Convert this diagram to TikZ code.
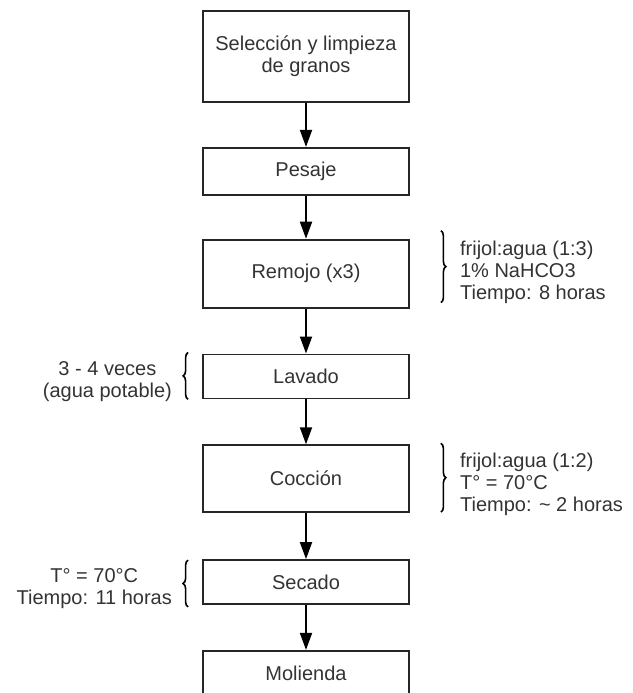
\documentclass[tikz,border=0pt]{standalone}
\usepackage{fontspec}
\setmainfont{Liberation Sans}
\usepackage{xcolor}
\usetikzlibrary{positioning,arrows.meta,decorations.pathreplacing}
\definecolor{tinta}{HTML}{333333}

\begin{document}
\begin{tikzpicture}[
    x=1pt, y=-1pt,
    every node/.style={font=\fontsize{20}{22}\selectfont, text=tinta},
    paso/.style={draw=black!85, line width=1.8pt, rectangle, minimum width=206pt, inner sep=0pt, align=center},
    flecha/.style={draw=black, line width=1.8pt, -{Triangle[width=12pt,length=17pt]}},
    llave/.style={draw=black, line width=1.6pt, decorate, decoration={brace, amplitude=5pt}},
    nota/.style={align=left, anchor=west, inner sep=0pt},
    notaizq/.style={align=center, anchor=east, inner sep=0pt}
]
\useasboundingbox (0,0) rectangle (632,693);
\clip (0,0) rectangle (632,693);
\node[paso, minimum height=91pt] (sel) at (306,56.5) {Selección y limpieza\\de granos};
\node[paso, minimum height=47pt, below=44pt of sel] (pes) {Pesaje};
\node[paso, minimum height=68pt, below=43pt of pes] (rem) {Remojo (x3)};
\node[paso, minimum height=44pt, below=45pt of rem] (lav) {Lavado};
\node[paso, minimum height=67pt, below=45pt of lav] (coc) {Cocción};
\node[paso, minimum height=44pt, below=46pt of coc] (sec) {Secado};
\node[paso, minimum height=46pt, below=45pt of sec] (mol) {Molienda};

\draw[flecha] (sel) -- (pes);
\draw[flecha] (pes) -- (rem);
\draw[flecha] (rem) -- (lav);
\draw[flecha] (lav) -- (coc);
\draw[flecha] (coc) -- (sec);
\draw[flecha] (sec) -- (mol);

\draw[llave] ([xshift=31pt,yshift=8pt]rem.north east) -- ([xshift=31pt,yshift=6pt]rem.south east);
\node[nota] (trem) at ([xshift=50pt,yshift=1pt]rem.east) {frijol:agua (1:3)\\1\% NaHCO3\\Tiempo: 8 horas};

\draw[llave] ([xshift=31pt,yshift=1pt]coc.north east) -- ([xshift=31pt,yshift=1pt]coc.south east);
\node[nota] (tcoc) at ([xshift=50pt,yshift=-6pt]coc.east) {frijol:agua (1:2)\\T° = 70°C\\Tiempo: \textasciitilde{} 2 horas};

\draw[llave] ([xshift=-14pt]lav.south west) -- ([xshift=-14pt,yshift=1pt]lav.north west);
\node[notaizq] (tlav) at ([xshift=-30pt,yshift=-5pt]lav.west) {3 - 4 veces\\(agua potable)};

\draw[llave] ([xshift=-14pt,yshift=-2pt]sec.south west) -- ([xshift=-14pt,yshift=-1pt]sec.north west);
\node[notaizq] (tsec) at ([xshift=-30pt,yshift=-7pt]sec.west) {T° = 70°C\\Tiempo: 11 horas};
\end{tikzpicture}
\end{document}
